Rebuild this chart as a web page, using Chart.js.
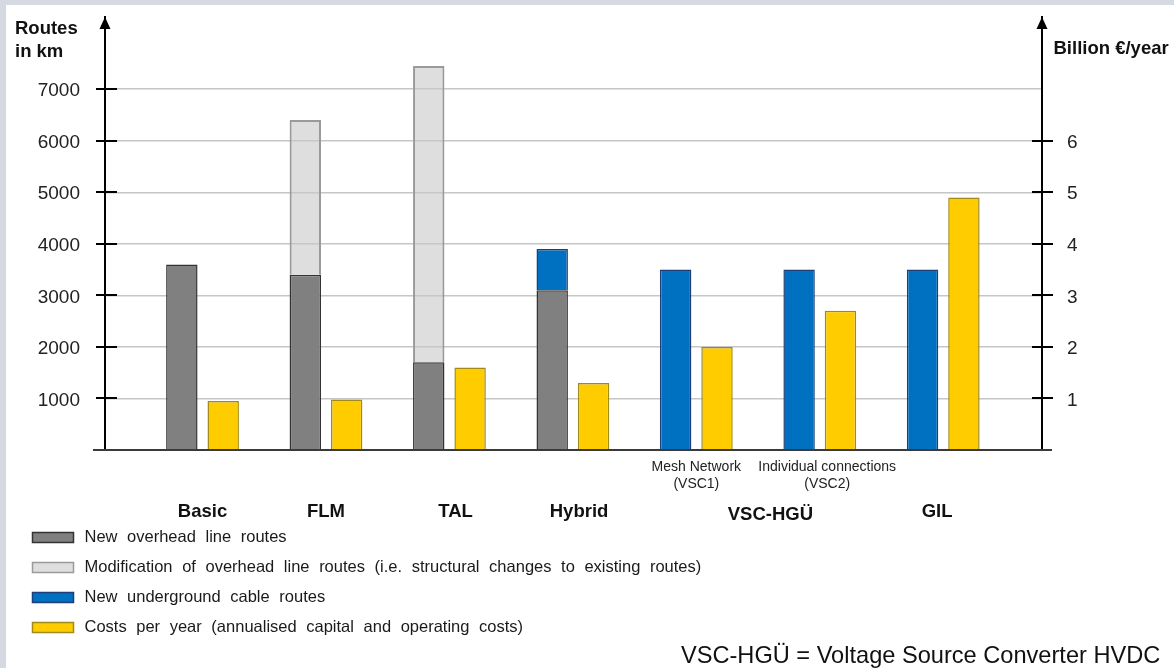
<!DOCTYPE html>
<html>
<head>
<meta charset="utf-8">
<title>Routes and annual costs by grid variant</title>
<script src="https://cdn.jsdelivr.net/npm/chart.js@4/dist/chart.umd.min.js"></script>
<style>
  html, body { margin: 0; padding: 0; width: 1174px; height: 668px; overflow: hidden; background: #d5dae2; }
  #panel { position: absolute; left: 6px; top: 5px; right: 0; bottom: 0; background: #ffffff; }
  #chart { position: absolute; left: 0; top: 0; }
</style>
</head>
<body>
<div id="panel"></div>
<canvas id="chart" width="1174" height="668"></canvas>
<script>
// ---- data ---------------------------------------------------------------
const categories = ['Basic', 'FLM', 'TAL', 'Hybrid', 'VSC1', 'VSC2', 'GIL'];

// route lengths in km (stacked)
const newOverheadKm      = [3600, 3400, 1700, 3100, null, null, null];
const modifiedOverheadKm = [null, 3000, 5750, null, null, null, null];
const newCableKm         = [null, null, null, 800, 3500, 3500, 3500];

// annualised costs in billion EUR per year
const costBnPerYear = [0.95, 0.98, 1.6, 1.3, 2.0, 2.7, 4.9];

// axis ticks and category captions
const leftTicks  = [1000, 2000, 3000, 4000, 5000, 6000, 7000];
const rightTicks = [1, 2, 3, 4, 5, 6];
const groupLabels   = ['Basic', 'FLM', 'TAL', 'Hybrid', 'VSC-HGÜ', 'GIL'];
const groupLabelPos = [0, 1, 2.05, 3.05, 4.6, 5.95];
const subLabels   = [['Mesh Network', '(VSC1)'], ['Individual connections', '(VSC2)']];
const subLabelPos = [4, 5.06];

const seriesLabels = [
  'New overhead line routes',
  'Modification of overhead line routes (i.e. structural changes to existing routes)',
  'New underground cable routes',
  'Costs per year (annualised capital and operating costs)'
];
const footnote = 'VSC-HGÜ = Voltage Source Converter HVDC';

// ---- helpers ------------------------------------------------------------
const FONT = "'Liberation Sans', Arial, Helvetica, sans-serif";
const X_MIN = -0.79, X_MAX = 6.8;

const toPoints = arr => arr
  .map((v, i) => ({ x: i, y: v }))
  .filter(p => p.y !== null);

function line(ctx, x1, y1, x2, y2) {
  ctx.beginPath(); ctx.moveTo(x1, y1); ctx.lineTo(x2, y2); ctx.stroke();
}

function arrowHead(ctx, x, tipY) {
  ctx.beginPath();
  ctx.moveTo(x, tipY);
  ctx.lineTo(x - 5.5, tipY + 12);
  ctx.lineTo(x + 5.5, tipY + 12);
  ctx.closePath();
  ctx.fill();
}

// axis arrows, crossing tick marks, zero line, axis titles, legend, footnote
const decorations = {
  id: 'decorations',
  afterDatasetsDraw(chart) {
    const { ctx, chartArea: a, scales: { y, y2 } } = chart;
    ctx.save();
    const y0 = y.getPixelForValue(0);
    ctx.strokeStyle = '#3a3a3a';
    ctx.lineWidth = 2;
    line(ctx, a.left - 12, y0, a.right + 10, y0);

    ctx.strokeStyle = '#000';
    y.ticks.forEach(t => {
      const p = Math.round(y.getPixelForValue(t.value));
      line(ctx, a.left - 9, p, a.left + 12, p);
    });
    y2.ticks.forEach(t => {
      const p = Math.round(y2.getPixelForValue(t.value));
      line(ctx, a.right - 10, p, a.right + 11, p);
    });

    ctx.fillStyle = '#000';
    arrowHead(ctx, a.left, a.top);
    arrowHead(ctx, a.right, a.top);
    ctx.restore();
  },
  afterDraw(chart) {
    const { ctx, chartArea: a } = chart;
    ctx.save();
    ctx.fillStyle = '#111';
    ctx.textAlign = 'left';
    ctx.textBaseline = 'alphabetic';
    ctx.font = 'bold 18.5px ' + FONT;
    ctx.fillText('Routes', 15, 33.5);
    ctx.fillText('in km', 15, 56.5);
    ctx.fillText('Billion €/year', a.right + 11.5, 53.5);

    // legend, one entry per row
    ctx.font = '16.5px ' + FONT;
    try { ctx.wordSpacing = '5px'; } catch (e) {}
    ctx.textBaseline = 'middle';
    chart.data.datasets.forEach((ds, i) => {
      const cy = 537.5 + i * 30;
      ctx.fillStyle = '#ffffff';
      ctx.fillRect(32.5, cy - 5, 41, 10);
      ctx.fillStyle = ds.backgroundColor;
      ctx.fillRect(32.5, cy - 5, 41, 10);
      ctx.strokeStyle = ds.borderColor;
      ctx.lineWidth = 1.5;
      ctx.strokeRect(32.5, cy - 5, 41, 10);
      ctx.fillStyle = '#1a1a1a';
      ctx.fillText(ds.label, 84.5, cy);
    });

    try { ctx.wordSpacing = '0px'; } catch (e) {}
    ctx.font = '23.6px ' + FONT;
    ctx.textBaseline = 'alphabetic';
    ctx.fillStyle = '#111';
    ctx.fillText(footnote, 681, 663);
    ctx.restore();
  }
};

// ---- chart --------------------------------------------------------------
new Chart(document.getElementById('chart'), {
  type: 'bar',
  data: {
    datasets: [
      { label: seriesLabels[0], data: toPoints(newOverheadKm), stack: 'routes', yAxisID: 'y',
        backgroundColor: '#808080', borderColor: '#333333', borderWidth: 1.5 },
      { label: seriesLabels[1], data: toPoints(modifiedOverheadKm), stack: 'routes', yAxisID: 'y',
        backgroundColor: 'rgba(200,200,200,0.6)', borderColor: '#9a9a9a', borderWidth: 2 },
      { label: seriesLabels[2], data: toPoints(newCableKm), stack: 'routes', yAxisID: 'y',
        backgroundColor: '#0070c0', borderColor: '#1f3f78', borderWidth: 1.5 },
      { label: seriesLabels[3], data: toPoints(costBnPerYear), stack: 'cost', yAxisID: 'y2',
        backgroundColor: '#ffcc00', borderColor: '#a08a1a', borderWidth: 1.5 }
    ]
  },
  options: {
    responsive: false,
    animation: false,
    devicePixelRatio: 1,
    categoryPercentage: 0.67,
    barPercentage: 0.76,
    layout: { padding: { top: 17, left: 0, right: 0, bottom: 0 } },
    plugins: { legend: { display: false }, tooltip: { enabled: false } },
    scales: {
      xs: {
        type: 'linear', position: 'bottom', weight: 0, min: X_MIN, max: X_MAX, offset: false,
        grid: { display: false, drawTicks: false }, border: { display: false },
        afterBuildTicks: s => { s.ticks = subLabelPos.map(v => ({ value: v })); },
        afterFit: s => { s.height = 45; },
        ticks: {
          autoSkip: false, maxRotation: 0, minRotation: 0, padding: 8, color: '#222',
          font: { family: FONT, size: 14, lineHeight: '17.5px' },
          callback: (v, i) => subLabels[i]
        }
      },
      x: {
        type: 'linear', position: 'bottom', weight: 1, min: X_MIN, max: X_MAX, offset: false, stacked: true,
        grid: { display: false, drawTicks: false }, border: { display: false },
        afterBuildTicks: s => { s.ticks = groupLabelPos.map(v => ({ value: v })); },
        afterFit: s => { s.height = 173; },
        ticks: {
          autoSkip: false, maxRotation: 0, minRotation: 0, padding: 6, color: '#111',
          font: ctx => ({
            family: FONT, size: 18.5, weight: 'bold',
            lineHeight: groupLabels[ctx.index] === 'VSC-HGÜ' ? '28px' : '22px'
          }),
          callback: (v, i) => groupLabels[i]
        }
      },
      y: {
        type: 'linear', position: 'left', min: 0, max: 8400, stacked: true,
        afterBuildTicks: s => { s.ticks = leftTicks.map(v => ({ value: v })); },
        afterFit: s => { s.width = 105; },
        grid: { color: '#c6c6c6', lineWidth: 1.5, drawTicks: true, tickLength: 25, tickColor: 'rgba(0,0,0,0)' },
        border: { display: true, color: '#000', width: 2 },
        ticks: { padding: 0, color: '#222', labelOffset: 2, font: { family: FONT, size: 19 }, callback: v => String(v) }
      },
      y2: {
        type: 'linear', position: 'right', min: 0, max: 8.4, stacked: true,
        afterBuildTicks: s => { s.ticks = rightTicks.map(v => ({ value: v })); },
        afterFit: s => { s.width = 132; },
        grid: { drawOnChartArea: false, drawTicks: true, tickLength: 25, tickColor: 'rgba(0,0,0,0)' },
        border: { display: true, color: '#000', width: 2 },
        ticks: { padding: 0, color: '#222', labelOffset: 2, font: { family: FONT, size: 19 }, callback: v => String(v) }
      }
    }
  },
  plugins: [decorations]
});
</script>
</body>
</html>
